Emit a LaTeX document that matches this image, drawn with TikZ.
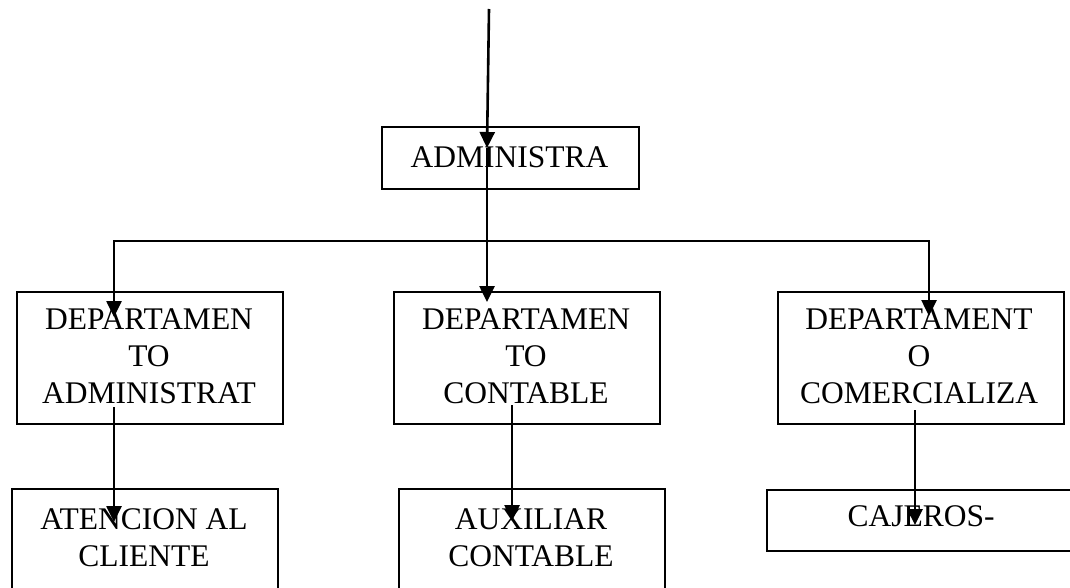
\documentclass[tikz,border=0pt]{standalone}
\usepackage{fontspec}
\setmainfont{Liberation Serif}
\usetikzlibrary{arrows.meta}
\tikzset{
  box/.style={draw=black, line width=2.2pt, inner sep=0pt, anchor=north west},
  lbl/.style={inner sep=0pt, anchor=north, align=center, font=\fontsize{31.5}{37}\selectfont},
  tip/.style={Triangle[width=15pt,length=16pt]},
  conn/.style={line width=2.6pt, -{Triangle[width=15pt,length=16pt]}},
}
\begin{document}
\begin{tikzpicture}[x=1pt,y=-1pt]
\useasboundingbox (0,0) rectangle (1070,588);
\clip (0,0) rectangle (1070,588);
% boxes
\node[box, minimum width=257pt, minimum height=62pt] (adm) at (381,126) {};
\node[box, minimum width=266pt, minimum height=132pt] (d1) at (16,291) {};
\node[box, minimum width=266pt, minimum height=132pt] (d2) at (393,291) {};
\node[box, minimum width=286pt, minimum height=132pt] (d3) at (777,291) {};
\node[box, minimum width=266pt, minimum height=140pt] (b1) at (11,488) {};
\node[box, minimum width=266pt, minimum height=140pt] (b2) at (398,488) {};
\node[box, minimum width=320pt, minimum height=61pt] (b3) at (766,489) {};
% texts
\node[lbl] (tadm) at (509.5,146) {ADMINISTRA};
\node[lbl] (td1) at (149,309) {DEPARTAMEN\\TO\\ADMINISTRAT};
\node[lbl] (td2) at (526,309) {DEPARTAMEN\\TO\\CONTABLE};
\node[lbl] (td3) at (919,309) {DEPARTAMENT\\O\\COMERCIALIZA};
\node[lbl] (tb1) at (144,508) {ATENCION AL\\CLIENTE};
\node[lbl] (tb2) at (531,508) {AUXILIAR\\CONTABLE};
\node[lbl] (tb3) at (921,505) {CAJEROS-};
% connector points
\coordinate (top) at (489,9);
\coordinate (admtip) at (487,148);
\coordinate (d2tip) at (487,302);
\coordinate (hl) at (114,241);
\coordinate (hr) at (929,241);
\coordinate (d1tip) at (114,317);
\coordinate (d3tip) at (929,316);
\coordinate (d1out) at (114,407);
\coordinate (b1tip) at (114,522);
\coordinate (d2out) at (512,405);
\coordinate (b2tip) at (512,521);
\coordinate (d3out) at (915,410);
\coordinate (b3tip) at (915,525);
% connectors
\draw[conn] (top) -- (admtip);
\draw[conn] (admtip) -- (d2tip);
\draw[line width=2.6pt, {Triangle[width=15pt,length=16pt]}-{Triangle[width=15pt,length=16pt]}] (d1tip) -- (hl) -- (hr) -- (d3tip);
\draw[conn] (d1out) -- (b1tip);
\draw[conn] (d2out) -- (b2tip);
\draw[conn] (d3out) -- (b3tip);
\end{tikzpicture}
\end{document}
